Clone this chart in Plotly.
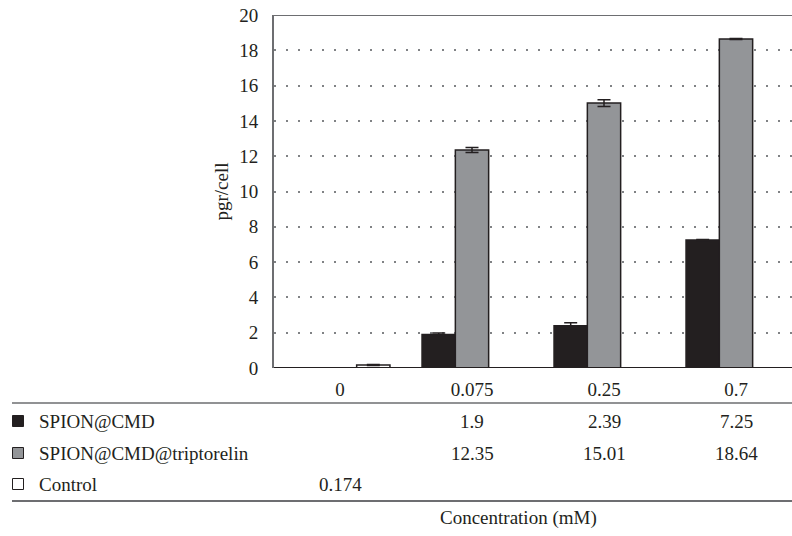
import plotly.graph_objects as go

categories = ["0", "0.075", "0.25", "0.7"]
series_names = ["SPION@CMD", "SPION@CMD@triptorelin", "Control"]
spion_cmd = [None, 1.9, 2.39, 7.25]
spion_trip = [None, 12.35, 15.01, 18.64]
control = [0.174, None, None, None]
spion_cmd_err = [0, 0.08, 0.17, 0.03]
spion_trip_err = [0, 0.14, 0.19, 0.03]
control_err = [0.03, 0, 0, 0]
y_ticks = [0, 2, 4, 6, 8, 10, 12, 14, 16, 18, 20]

FONT = "'Liberation Serif', 'Times New Roman', serif"
FS = 19
DARK = "#231f20"
GRAY = "#939598"
AXGRAY = "#6d6e71"
fills = [DARK, GRAY, "#ffffff"]

W, H = 792, 536
L, T = 274, 15
R, B = 0, 536 - 368
PW, PH = W - L - R, H - T - B


def px(x):
    return (x - L) / PW


def py(y):
    return (T + PH - y) / PH


xi = list(range(len(categories)))
fig = go.Figure()
for name, vals, errs, col in zip(series_names, [spion_cmd, spion_trip, control],
                                 [spion_cmd_err, spion_trip_err, control_err], fills):
    fig.add_trace(go.Bar(
        x=xi, y=vals, name=name,
        marker=dict(color=col, line=dict(color=DARK, width=1.5)),
        error_y=dict(type="data", array=errs, visible=True, color=DARK,
                     thickness=1.5, width=6.5),
        showlegend=False,
    ))

spacing = PW / 132.0
fnt = dict(family=FONT, size=FS, color=DARK)
fig.update_layout(
    width=W, height=H,
    margin=dict(l=L, r=R, t=T, b=B, pad=0),
    paper_bgcolor="white", plot_bgcolor="white",
    barmode="group", bargap=0.243, bargroupgap=0,
    font=fnt,
    xaxis=dict(
        range=[-0.5, -0.5 + spacing], tickmode="array", tickvals=xi,
        ticktext=categories, showgrid=False, zeroline=False,
        showline=False, ticks="", ticklabelstandoff=8,
        tickfont=fnt,
    ),
    yaxis=dict(
        range=[0, 20], tickmode="array", tickvals=y_ticks,
        showgrid=True, gridcolor="#808285", gridwidth=1.5, griddash="1.5px,10.5px",
        zeroline=False, showline=True, linecolor=AXGRAY, linewidth=2,
        ticks="", ticklabelstandoff=10,
        tickfont=fnt,
        title=dict(text="pgr/cell", font=fnt, standoff=6),
    ),
)

shapes = []
shapes.append(dict(type="line", xref="paper", yref="y", x0=0, x1=1, y0=0, y1=0,
                   line=dict(color=DARK, width=2)))
shapes.append(dict(type="line", xref="paper", yref="y", x0=0, x1=1, y0=20, y1=20,
                   line=dict(color=AXGRAY, width=2)))
shapes.append(dict(type="line", xref="paper", yref="paper", x0=px(12), x1=1,
                   y0=py(403), y1=py(403), line=dict(color=AXGRAY, width=1.5)))
shapes.append(dict(type="line", xref="paper", yref="paper", x0=px(12), x1=1,
                   y0=py(501), y1=py(501), line=dict(color=AXGRAY, width=2)))

annotations = []
row_y = [421, 453, 484]
for name, vals, col, ry in zip(series_names, [spion_cmd, spion_trip, control], fills, row_y):
    shapes.append(dict(type="rect", xref="paper", yref="paper",
                       x0=px(12.5), x1=px(23.5), y0=py(ry + 5.5), y1=py(ry - 5.5),
                       fillcolor=col, line=dict(color=DARK, width=1)))
    annotations.append(dict(xref="paper", yref="paper", x=px(37), y=py(ry),
                            xanchor="left", yanchor="middle", text=name, showarrow=False,
                            font=fnt))
    for i, v in enumerate(vals):
        if v is not None:
            annotations.append(dict(xref="x", yref="paper", x=i, y=py(ry),
                                    xanchor="center", yanchor="middle", text=str(v),
                                    showarrow=False, font=fnt))

annotations.append(dict(xref="paper", yref="paper", x=px(518), y=py(518),
                        xanchor="center", yanchor="middle", text="Concentration (mM)",
                        showarrow=False, font=fnt))

fig.update_layout(shapes=shapes, annotations=annotations)
fig.write_html("out.html")
